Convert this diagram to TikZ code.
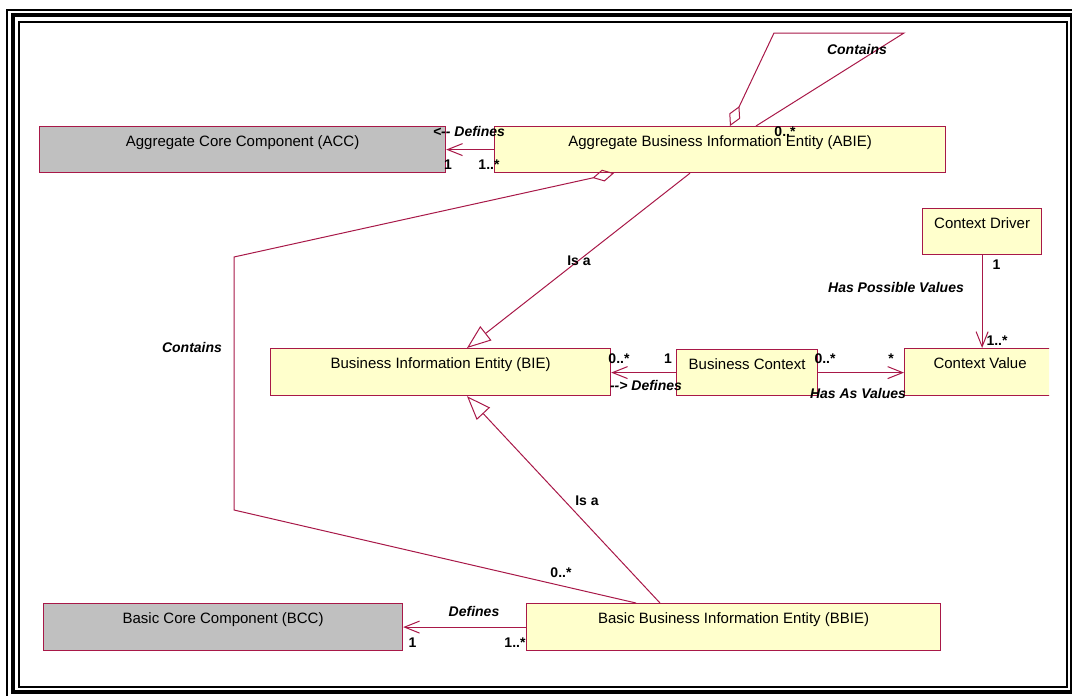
\documentclass[tikz,border=0pt]{standalone}
\usepackage{fontspec}
\setmainfont{Liberation Sans}
\usetikzlibrary{arrows.meta}
\definecolor{umlline}{RGB}{168,24,72}
\definecolor{umlfill}{RGB}{255,255,204}
\definecolor{umlgray}{RGB}{192,192,192}

\begin{document}
\begin{tikzpicture}[x=1pt,y=-1pt,
  cls/.style={draw=umlline, line width=1.2pt, fill=umlfill, inner sep=0pt,
    text height=20pt, text depth=26pt, anchor=north west,
    font=\fontsize{15}{18}\selectfont},
  core/.style={cls, fill=umlgray},
  conn/.style={draw=umlline, line width=1pt},
  assoc/.style={conn, -{Straight Barb[length=15pt,width=12pt]}},
  isa/.style={conn, -{Triangle[open,length=24pt,width=18pt]}},
  aggr/.style={conn, -{Diamond[open,length=22pt,width=12pt]}},
  role/.style={inner sep=0pt, anchor=base, font=\fontsize{14}{16}\selectfont\bfseries\itshape},
  mult/.style={inner sep=0pt, anchor=base, font=\fontsize{14}{16}\selectfont\bfseries},
  frame/.style={draw=black}
]
\useasboundingbox (0,0) rectangle (1072,696);
\begin{scope}
\clip (0,0) rectangle (1072,696);

% page frame
\draw[frame, line width=2pt] (7,10) rectangle (1078,696.5);
\draw[frame, line width=4pt] (13,15) rectangle (1072,692);
\draw[frame, line width=1.8pt] (19,22) rectangle (1067,687);

% classes
\node[core, minimum width=406pt] (acc) at (39,126) {Aggregate Core Component (ACC)};
\node[cls, minimum width=451pt] (abie) at (494,126) {Aggregate Business Information Entity (ABIE)};
\node[cls, minimum width=119pt] (cd) at (922,208) {Context Driver};
\node[cls, minimum width=340pt, text depth=27pt] (bie) at (270,348) {Business Information Entity (BIE)};
\node[cls, minimum width=141pt] (bc) at (676,349) {Business Context};
\begin{scope}
  \clip (0,0) rectangle (1049,696);
  \node[cls, minimum width=151pt, text depth=27pt] (cv) at (904,348) {Context Value};
\end{scope}
\node[core, minimum width=359pt, text depth=27pt] (bcc) at (43,603) {Basic Core Component (BCC)};
\node[cls, minimum width=414pt, text depth=27pt] (bbie) at (526,603) {Basic Business Information Entity (BBIE)};

% bend points and attachment points
\coordinate (loopA) at (774,33);
\coordinate (loopB) at (904,33);
\coordinate (abieLoopIn) at ([xshift=236pt]abie.north west);
\coordinate (abieLoopOut) at ([xshift=262pt]abie.north west);
\coordinate (abieBottomAgg) at ([xshift=120pt]abie.south west);
\coordinate (abieBottomIsa) at ([xshift=196pt]abie.south west);
\coordinate (bieTop) at ([xshift=197pt]bie.north west);
\coordinate (bieBottom) at ([xshift=197pt]bie.south west);
\coordinate (bbieTopAgg) at ([xshift=110pt]bbie.north west);
\coordinate (bbieTopIsa) at ([xshift=134pt]bbie.north west);
\coordinate (bendLow) at (234,510);
\coordinate (bendHigh) at (234,257);

% connectors
\draw[assoc] (abie.west) -- (acc.east);
\draw[aggr] (abieLoopOut) -- (loopB) -- (loopA) -- (abieLoopIn);
\draw[aggr] (bbieTopAgg) -- (bendLow) -- (bendHigh) -- (abieBottomAgg);
\draw[isa] (abieBottomIsa) -- (bieTop);
\draw[isa] (bbieTopIsa) -- (bieBottom);
\draw[assoc] (bc.west) -- (bc.west -| bie.east);
\draw[assoc] (bc.east) -- (bc.east -| cv.west);
\draw[assoc] (cd.south) -- (cd.south |- cv.north);
\draw[assoc] (bbie.west) -- (bbie.west -| bcc.east);

% connector labels
\node[role] (lAccDef) at (469,136) {<-{}- Defines};
\node[mult] (mAcc) at (448,169) {1};
\node[mult] (mAbie) at (489,169) {1..*};
\node[role] (lLoop) at (857,54) {Contains};
\node[mult] (mLoop) at (785,136) {0..*};
\node[role] (lCont) at (192,352) {Contains};
\node[mult] (mCont) at (561,577) {0..*};
\node[mult] (lIsa1) at (579,265) {Is a};
\node[mult] (lIsa2) at (587,505) {Is a};
\node[role] (lPoss) at (896,292) {Has Possible Values};
\node[mult] (mCd) at (996.5,269) {1};
\node[mult] (mCv) at (997,345) {1..*};
\node[mult] (mBie) at (619,363) {0..*};
\node[mult] (mBc) at (668,363) {1};
\node[role] (lBcDef) at (646,390) {-{}-> Defines};
\node[mult] (mBc2) at (825,363) {0..*};
\node[mult] (mCv2) at (891,363) {*};
\node[role] (lVals) at (858,398) {Has As Values};
\node[role] (lBccDef) at (474,616) {Defines};
\node[mult] (mBcc) at (412.5,647) {1};
\node[mult] (mBbie) at (515,647) {1..*};
\end{scope}
\end{tikzpicture}
\end{document}
